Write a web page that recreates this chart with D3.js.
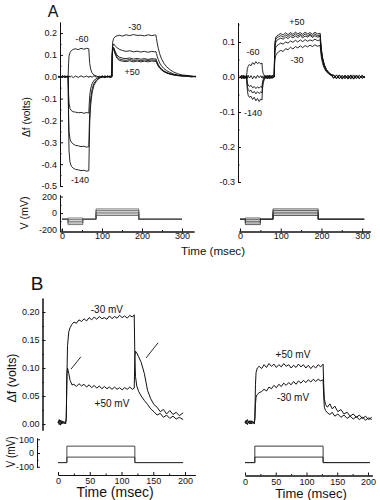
<!DOCTYPE html>
<html><head><meta charset="utf-8">
<script src="https://cdn.jsdelivr.net/npm/d3@7/dist/d3.min.js"></script>
<style>
body{margin:0;background:#fff}
svg{display:block}
text{font-family:"Liberation Sans",Arial,sans-serif;fill:#111}
</style>
</head><body><svg id="c" width="380" height="500"></svg>
<script>
// ---------- Panel A, left: fluorescence traces (time grid, ms) ----------
const tAL = [0,5,10,15,20, 22,23,24,26,29, 33,38,44,50,56, 62,67,68,69,71, 74,78,84,90,96, 102,108,113,117,118, 119,121,124,128,133, 140,148,156,164,172, 180,188,196,204,210, 213,214,216,218,221, 225,230,236,243,251, 260,270,280,290,300];
const aL1 = [0.003,-0.004,0.005,-0.003,0.002, 0.0,0.06,0.095,0.11,0.12, 0.125,0.128,0.124,0.13,0.126, 0.13,0.128,0.09,0.06,0.035, 0.018,0.008,0.003,-0.004,0.003, -0.005,0.004,-0.003,0.0,0.12, 0.16,0.175,0.183,0.187,0.19, 0.186,0.192,0.188,0.193,0.189, 0.19,0.187,0.192,0.188,0.191, 0.19,0.175,0.15,0.13,0.105, 0.082,0.062,0.046,0.033,0.022, 0.014,0.008,0.006,0.002,0.001];
const aL2 = [-0.002,0.003,-0.003,0.004,-0.002, 0.002,-0.003,0.004,-0.002,0.003, -0.004,0.003,-0.003,0.004,-0.002, 0.003,-0.003,0.002,-0.002,0.003, -0.003,0.004,-0.002,0.003,-0.004, 0.003,-0.002,0.004,0.0,0.11, 0.14,0.15,0.142,0.133,0.126, 0.12,0.116,0.119,0.114,0.117, 0.113,0.116,0.112,0.116,0.114, 0.115,0.106,0.091,0.079,0.063, 0.05,0.038,0.028,0.02,0.013, 0.008,0.005,0.004,0.002,-0.001];
const aL3 = [0.002,-0.003,0.003,-0.002,0.003, 0.0,-0.08,-0.12,-0.145,-0.155, -0.16,-0.162,-0.165,-0.163,-0.167, -0.164,-0.166,-0.12,-0.085,-0.055, -0.032,-0.017,-0.008,-0.002,0.003, -0.002,0.003,-0.003,0.0,0.1, 0.13,0.135,0.118,0.1,0.09, 0.085,0.083,0.086,0.081,0.084, 0.08,0.083,0.079,0.083,0.081, 0.082,0.075,0.065,0.056,0.045, 0.035,0.027,0.02,0.014,0.01, 0.006,0.004,0.003,-0.001,0.002];
const aL4 = [-0.003,0.002,-0.002,0.003,-0.003, 0.0,-0.17,-0.25,-0.285,-0.3, -0.308,-0.314,-0.316,-0.32,-0.318, -0.322,-0.32,-0.23,-0.16,-0.1, -0.058,-0.03,-0.014,-0.005,0.002, -0.003,0.002,-0.002,0.0,0.1, 0.125,0.13,0.11,0.092,0.082, 0.077,0.075,0.079,0.074,0.077, 0.073,0.077,0.074,0.077,0.075, 0.076,0.07,0.06,0.052,0.042, 0.033,0.025,0.018,0.013,0.009, 0.006,0.003,0.004,0.0,0.002];
const aL5 = [0.002,-0.002,0.003,-0.003,0.002, 0.0,-0.22,-0.34,-0.39,-0.41, -0.418,-0.424,-0.426,-0.43,-0.428, -0.432,-0.43,-0.31,-0.21,-0.13, -0.075,-0.04,-0.018,-0.007,-0.001, 0.003,-0.002,0.002,0.0,0.1, 0.125,0.128,0.105,0.085,0.075, 0.071,0.069,0.073,0.068,0.072, 0.068,0.071,0.068,0.072,0.07, 0.071,0.065,0.056,0.048,0.039, 0.031,0.023,0.017,0.012,0.008, 0.005,0.004,0.002,0.003,0.0];

// ---------- Panel A, right ----------
const tAR = [0,4,8,12,16, 17,18,20,23,27, 31,35,39,43,47, 51,54,55,57,60, 64,68,72,76,80, 84,85,86,88,91, 95,100,106,112,118, 124,130,136,142,148, 154,160,166,172,178, 184,190,197,198,200, 203,207,212,218,224, 230,237,244,251,258, 265,272,279,286,293, 300,307];
const aR1 = [0.003,-0.005,0.004,-0.003,0.002, 0.012,0.024,0.03,0.036,0.032, 0.041,0.036,0.044,0.038,0.042, 0.037,0.04,0.022,0.01,0.003, -0.005,0.004,-0.004,0.005,-0.003, 0.002,0.035,0.052,0.062,0.068, 0.072,0.076,0.073,0.081,0.078, 0.085,0.08,0.087,0.083,0.089, 0.084,0.09,0.086,0.091,0.087, 0.092,0.088,0.09,0.075,0.055, 0.038,0.025,0.015,0.009,0.004, 0.006,-0.004,0.005,-0.005,0.004, -0.006,0.005,-0.004,0.006,-0.005, 0.003,-0.002];
const aR2 = [-0.004,0.005,-0.003,0.004,-0.002, 0.003,-0.004,0.005,-0.003,0.004, -0.005,0.003,-0.004,0.005,-0.002, 0.004,-0.003,0.002,-0.004,0.005, -0.003,0.004,-0.005,0.003,-0.004, 0.001,0.05,0.075,0.085,0.09, 0.093,0.097,0.094,0.1,0.097, 0.103,0.099,0.105,0.1,0.106, 0.101,0.107,0.102,0.106,0.103, 0.108,0.104,0.106,0.088,0.065, 0.045,0.029,0.018,0.01,0.005, -0.003,0.005,-0.005,0.004,-0.004, 0.005,-0.006,0.004,-0.003,0.005, -0.004,0.002];
const aR3 = [0.004,-0.003,0.005,-0.004,0.003, -0.008,-0.017,-0.023,-0.027,-0.024, -0.031,-0.027,-0.033,-0.028,-0.032, -0.027,-0.03,-0.016,-0.007,-0.002, 0.004,-0.004,0.005,-0.003,0.004, 0.0,0.06,0.088,0.1,0.105, 0.108,0.111,0.108,0.114,0.11, 0.116,0.112,0.117,0.113,0.118, 0.112,0.117,0.114,0.119,0.113, 0.118,0.114,0.116,0.097,0.072, 0.05,0.032,0.02,0.011,0.006, 0.004,-0.005,0.006,-0.003,0.005, -0.004,0.003,-0.006,0.004,-0.003, 0.005,-0.003];
const aR4 = [-0.003,0.004,-0.005,0.003,-0.002, -0.012,-0.026,-0.036,-0.041,-0.038, -0.046,-0.041,-0.048,-0.042,-0.047, -0.043,-0.045,-0.025,-0.011,-0.004, 0.003,-0.005,0.004,-0.004,0.005, 0.0,0.065,0.095,0.108,0.113, 0.115,0.118,0.114,0.12,0.116, 0.122,0.117,0.123,0.118,0.122, 0.117,0.123,0.118,0.122,0.117, 0.123,0.118,0.12,0.1,0.075, 0.052,0.034,0.021,0.012,0.007, -0.004,0.006,-0.004,0.005,-0.005, 0.004,-0.003,0.006,-0.005,0.004, -0.003,0.001];
const aR5 = [0.002,-0.004,0.003,-0.005,0.004, -0.018,-0.038,-0.052,-0.058,-0.055, -0.064,-0.058,-0.068,-0.061,-0.07, -0.063,-0.066,-0.038,-0.017,-0.006, 0.004,-0.003,0.005,-0.004,0.003, 0.0,0.07,0.1,0.114,0.118, 0.121,0.124,0.12,0.126,0.121, 0.127,0.122,0.128,0.123,0.127, 0.122,0.128,0.123,0.127,0.122, 0.128,0.123,0.125,0.105,0.078, 0.055,0.036,0.022,0.013,0.007, 0.005,-0.004,0.005,-0.006,0.004, -0.003,0.006,-0.005,0.003,-0.004, 0.004,-0.002];

// ---------- Panel A voltage protocol (mV, ms) ----------
const holdA = -75;
const step1LevelsA = [-60,-80,-100,-120,-140];
const step2LevelsA = [-30,-10,10,30,50];
const stepTimesAL = [15,52,85,192,300];
const stepTimesAR = [13,50,81,192,305];

// ---------- Panel B, left ----------
const tBL = [0,2,4,6,8, 10,12,13,14,15, 17,19,22,25,29, 33,37,41,45,49, 53,57,61,65,69, 73,77,81,85,89, 93,97,101,105,109, 113,117,120,121,122, 124,127,131,136,141, 146,151,156,161,166, 171,176,181,186,191, 197];
const bLm30 = [0.002,0.008,-0.002,0.006,0.001, 0.004,0.0,0.01,0.08,0.14, 0.165,0.172,0.178,0.182,0.18, 0.186,0.183,0.188,0.184,0.19, 0.186,0.191,0.187,0.192,0.188, 0.19,0.187,0.193,0.188,0.192, 0.189,0.194,0.19,0.193,0.189, 0.194,0.191,0.195,0.12,0.085, 0.068,0.058,0.05,0.042,0.035, 0.027,0.022,0.016,0.019,0.012, 0.016,0.01,0.014,0.009,0.012, 0.008];
const bLp50 = [0.004,-0.001,0.007,0.0,0.005, 0.001,0.003,0.01,0.09,0.1, 0.09,0.078,0.07,0.071,0.067, 0.072,0.068,0.071,0.066,0.07, 0.065,0.069,0.064,0.068,0.063, 0.067,0.063,0.066,0.062,0.066, 0.062,0.065,0.061,0.065,0.062, 0.066,0.062,0.064,0.12,0.13, 0.127,0.12,0.11,0.09,0.06, 0.045,0.035,0.03,0.022,0.026, 0.018,0.024,0.017,0.021,0.015, 0.02];

// ---------- Panel B, right ----------
const tBR = [0,2,4,6,8, 10,12,14,15,16, 17,18,20,23,27, 31,35,39,43,47, 51,55,59,63,67, 71,75,79,83,87, 91,95,99,103,107, 111,115,119,123,127, 128,129,131,134,138, 142,146,151,156,161, 166,171,176,181,186, 191,196,201,206];
const bRp50 = [0.004,0.0,0.008,0.002,0.006, 0.0,0.005,0.002,0.003,0.01, 0.07,0.092,0.1,0.103,0.099, 0.106,0.101,0.108,0.103,0.107, 0.101,0.106,0.102,0.108,0.103, 0.106,0.1,0.105,0.101,0.107, 0.102,0.106,0.1,0.105,0.099, 0.104,0.1,0.106,0.102,0.107, 0.07,0.045,0.035,0.03,0.036, 0.027,0.032,0.022,0.026,0.018, 0.021,0.014,0.018,0.012,0.016, 0.01,0.014,0.008,0.012];
const bRm30 = [0.002,0.007,-0.001,0.005,0.0, 0.006,0.001,0.004,0.0,0.008, 0.035,0.048,0.053,0.056,0.058, 0.062,0.059,0.066,0.063,0.069, 0.065,0.071,0.067,0.073,0.069, 0.074,0.07,0.076,0.071,0.077, 0.073,0.078,0.074,0.079,0.075, 0.08,0.076,0.08,0.077,0.079, 0.05,0.03,0.024,0.02,0.017, 0.021,0.014,0.018,0.012,0.016, 0.01,0.014,0.009,0.013,0.008, 0.012,0.007,0.011,0.008];

// ---------- Panel B voltage protocol ----------
const holdB = -70;
const stepLevelsB = [50,-30];
const stepTimesBL = [14,121,197];
const stepTimesBR = [16,127,203];

// ---------- tick values ----------
const ticksAL = [0.2,0.1,0,-0.1,-0.2,-0.3,-0.4,-0.5];
const ticksAR = [0.1,0,-0.1,-0.2,-0.3];
const ticksVA = [200,0,-200];
const ticksTimeA = [0,100,200,300];
const ticksB = [0,0.05,0.1,0.15,0.2];
const ticksVB = [100,0,-100];
const ticksTimeB = [0,50,100,150,200];

// ---------- annotations [time, value, text] ----------
const labelsAL = [[52,0.172,"-60"],[167,0.227,"-30"],[161,0.021,"+50"],[48,-0.473,"-140"]];
const labelsAR = [[140,0.157,"+50"],[32,0.071,"-60"],[140,0.049,"-30"],[32,-0.103,"-140"]];
const labelsBL = [[77,0.205,"-30 mV"],[85,0.0375,"+50 mV"]];
const labelsBR = [[78,0.125,"+50 mV"],[78,0.048,"-30 mV"]];
const arrowsBL = [[36,0.12,20.5,0.098],[157.5,0.145,138.6,0.118]];

// ================== drawing ==================
const svg = d3.select("#c");
const fmt1 = d => d3.format(".1f")(d).replace("\u2212","-");
const fmt2 = d => d3.format(".2f")(d).replace("\u2212","-");
const fmt0 = d => d3.format("d")(d).replace("\u2212","-");

// scales
const xAL = d3.scaleLinear().domain([0,300]).range([58,196]);
const yAL = d3.scaleLinear().domain([-0.5,0.25]).range([186,22.1]);
const xAR = d3.scaleLinear().domain([0,307]).range([240,365]);
const yAR = d3.scaleLinear().domain([-0.3,0.155]).range([182,22.75]);
const xVAL = d3.scaleLinear().domain([-5,330]).range([60,194]);
const xVAR = d3.scaleLinear().domain([-3,320]).range([238.8,370.3]);
const yVA = d3.scaleLinear().domain([-220,220]).range([231.2,194.9]);
const xBL = d3.scaleLinear().domain([0,216]).range([58,195.2]);
const xBR = d3.scaleLinear().domain([0,207]).range([245,372.3]);
const yB = d3.scaleLinear().domain([-0.011,0.225]).range([430.2,298]);
const yVB = d3.scaleLinear().domain([-105,110]).range([467.4,437.9]);

function styleAxis(g){
  g.selectAll("path.domain").attr("stroke","#111").attr("stroke-width",1);
  g.selectAll(".tick line").attr("stroke","#111");
  g.selectAll("text").attr("font-size","9px").attr("fill","#111")
    .attr("font-family","'Liberation Sans',Arial,sans-serif");
}
function yAxis(scale, x, major, minor, fmt){
  const g = svg.append("g").attr("transform",`translate(${x},0)`);
  g.call(d3.axisLeft(scale).tickValues(major).tickSize(-3).tickSizeOuter(0).tickPadding(3).tickFormat(fmt));
  if (minor.length) g.append("g").call(d3.axisLeft(scale).tickValues(minor).tickSize(-1.5).tickSizeOuter(0).tickFormat(""));
  styleAxis(g);
}
function xAxis(scale, y, major, minor, pad){
  const g = svg.append("g").attr("transform",`translate(0,${y})`);
  g.call(d3.axisBottom(scale).tickValues(major).tickSize(-3).tickSizeOuter(0).tickPadding(pad).tickFormat(fmt0));
  if (minor.length) g.append("g").call(d3.axisBottom(scale).tickValues(minor).tickSize(-1.5).tickSizeOuter(0).tickFormat(""));
  styleAxis(g);
}
const mids = (arr) => { const s=[...arr].sort((a,b)=>a-b); const r=[]; for(let i=0;i<s.length-1;i++) r.push((s[i]+s[i+1])/2); return r; };

function traces(t, series, x, y, color, w){
  const line = d3.line().defined((d,i)=>t[i]!==undefined).x((d,i)=>x(t[i])).y(d=>y(d));
  svg.append("g").selectAll("path").data(series).join("path")
    .attr("d", d=>line(d)).attr("fill","none").attr("stroke",color)
    .attr("stroke-width",w).attr("stroke-linejoin","round");
}
function stepPath(times, levels, hold){
  const pts = [[0,hold]];
  for (let i=0;i<levels.length;i++){
    pts.push([times[2*i],hold],[times[2*i],levels[i]],[times[2*i+1],levels[i]],[times[2*i+1],hold]);
  }
  pts.push([times[times.length-1],hold]);
  return pts;
}
function protocol(sweeps, x, y, color, w){
  const line = d3.line().x(d=>x(d[0])).y(d=>y(d[1]));
  svg.append("g").selectAll("path").data(sweeps).join("path")
    .attr("d", line).attr("fill","none").attr("stroke",color).attr("stroke-width",w);
}
function labels(arr, x, y, size){
  svg.append("g").selectAll("text").data(arr).join("text")
    .attr("x", d=>x(d[0])).attr("y", d=>y(d[1])).attr("text-anchor","middle")
    .attr("dominant-baseline","central").attr("font-size",size).text(d=>d[2]);
}
function title(txt, x, y, size, rot, len){
  const t = svg.append("text").attr("transform",`translate(${x},${y}) rotate(${rot})`)
    .attr("text-anchor","middle").attr("dominant-baseline","central")
    .attr("font-size",size).text(txt);
  if (len) t.attr("textLength",len).attr("lengthAdjust","spacingAndGlyphs");
}

// ---- Panel A ----
yAxis(yAL, 60, ticksAL, mids(ticksAL), fmt1);
yAxis(yAR, 238, ticksAR, mids(ticksAR).concat([0.15]), fmt1);
traces(tAL, [aL1,aL2,aL3,aL4,aL5], xAL, yAL, "#111", 0.9);
traces(tAR, [aR1,aR2,aR3,aR4,aR5], xAR, yAR, "#111", 0.9);
labels(labelsAL, xAL, yAL, "9px");
labels(labelsAR, xAR, yAR, "9px");

// voltage A
yAxis(yVA, 60, ticksVA, [100,-100], fmt0);
xAxis(xVAL, 231.5, ticksTimeA, [50,150,250], 1);
xAxis(xVAR, 231.5, ticksTimeA, [50,150,250], 1);
const sweepsAL = step1LevelsA.map((v,i)=>stepPath(stepTimesAL,[v,step2LevelsA[i]],holdA));
const sweepsAR = step1LevelsA.map((v,i)=>stepPath(stepTimesAR,[v,step2LevelsA[i]],holdA));
protocol(sweepsAL, xVAL, yVA, "#555", 0.8);
protocol(sweepsAR, xVAR, yVA, "#333", 0.8);

title("A", 53, 11, "16px", 0);
title("\u0394f (volts)", 26, 117, "10.5px", -90, 40);
title("V (mV)", 24, 213, "11px", -90, 33);
title("Time (msec)", 213, 251, "11.5px", 0, 64);

// ---- Panel B ----
yAxis(yB, 42.5, ticksB, mids(ticksB), fmt2);
traces(tBL, [bLm30,bLp50], xBL, yB, "#111", 1);
traces(tBR, [bRp50,bRm30], xBR, yB, "#111", 1);
labels(labelsBL, xBL, yB, "10px");
labels(labelsBR, xBR, yB, "10px");
svg.append("g").selectAll("line").data(arrowsBL).join("line")
  .attr("x1",d=>xBL(d[0])).attr("y1",d=>yB(d[1])).attr("x2",d=>xBL(d[2])).attr("y2",d=>yB(d[3]))
  .attr("stroke","#111").attr("stroke-width",0.9);

yAxis(yVB, 37, ticksVB, [50,-50], fmt0);
xAxis(xBL, 475, ticksTimeB, [25,75,125,175], 3);
xAxis(xBR, 475.5, ticksTimeB, [25,75,125,175], 3);
protocol(stepLevelsB.map(v=>stepPath(stepTimesBL,[v],holdB)), xBL, yVB, "#333", 0.9);
protocol(stepLevelsB.map(v=>stepPath(stepTimesBR,[v],holdB)), xBR, yVB, "#222", 0.9);

title("B", 37, 283, "19px", 0);
title("\u0394f (volts)", 12, 378, "12px", -90, 49);
title("V (mV)", 11, 452, "12px", -90, 31);
title("Time (msec)", 115, 492, "14px", 0);
title("Time (msec)", 311, 493, "13px", 0);
</script></body></html>
